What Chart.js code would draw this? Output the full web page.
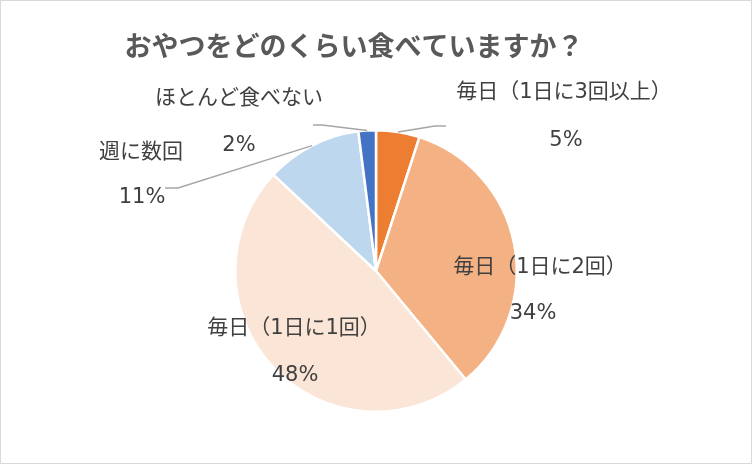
<!DOCTYPE html>
<html>
<head>
<meta charset="utf-8">
<script src="https://cdn.jsdelivr.net/npm/chart.js@4"></script>
<style>
  body { margin: 0; background: #fff; }
  .frame { width: 750px; height: 462px; border: 1px solid #D9D9D9; }
</style>
</head>
<body>
<div class="frame"><canvas id="snackChart"></canvas></div>
<script>
// Data
const chartTitle = 'おやつをどのくらい食べていますか？';
const categories = ['毎日（1日に3回以上）', '毎日（1日に2回）', '毎日（1日に1回）', '週に数回', 'ほとんど食べない'];
const shares = [5, 34, 48, 11, 2];
const sliceColors = ['#ED7D31', '#F4B183', '#FBE5D6', '#BDD7EE', '#4472C4'];

// label layout relative to pie centre: name, percent, optional leader elbow/end
const labelLayout = [
    { name: [188, -178], pct: [190, -130], elbow: [59, -145], end: [70, -145] },
    { name: [164, -3], pct: [157, 43] },
    { name: [-82, 58], pct: [-81, 105] },
    { name: [-235, -118], pct: [-234, -73], elbow: [-198, -83], end: [-211, -83] },
    { name: [-137, -172], pct: [-137, -125], elbow: [-54, -146], end: [-63, -146] }
];

const labelFont = "21px 'DejaVu Sans', 'Noto Sans CJK JP', sans-serif";

const labelPlugin = {
    id: 'sliceLabels',
    afterDatasetsDraw(chart) {
        const ctx = chart.ctx;
        const meta = chart.getDatasetMeta(0);
        ctx.save();
        // title
        ctx.fillStyle = '#595959';
        ctx.font = "bold 27px 'Noto Sans CJK JP', sans-serif";
        ctx.textAlign = 'center';
        ctx.textBaseline = 'middle';
        ctx.fillText(chartTitle, chart.width / 2 - 22, 45);

        meta.data.forEach((arc, i) => {
            const cx = arc.x, cy = arc.y;
            const lay = labelLayout[i];
            if (lay.elbow) {
                const mid = (arc.startAngle + arc.endAngle) / 2;
                const r = arc.outerRadius;
                ctx.beginPath();
                ctx.strokeStyle = '#A6A6A6';
                ctx.lineWidth = 1.5;
                ctx.moveTo(cx + Math.cos(mid) * r, cy + Math.sin(mid) * r);
                ctx.lineTo(cx + lay.elbow[0], cy + lay.elbow[1]);
                ctx.lineTo(cx + lay.end[0], cy + lay.end[1]);
                ctx.stroke();
            }
            ctx.fillStyle = '#404040';
            ctx.font = labelFont;
            ctx.fillText(categories[i], cx + lay.name[0], cy + lay.name[1]);
            ctx.fillText(shares[i] + '%', cx + lay.pct[0], cy + lay.pct[1]);
        });
        ctx.restore();
    }
};

new Chart(document.getElementById('snackChart'), {
    type: 'pie',
    data: {
        labels: categories,
        datasets: [{
            data: shares,
            backgroundColor: sliceColors,
            borderColor: '#FFFFFF',
            borderWidth: 2.5
        }]
    },
    options: {
        responsive: true,
        maintainAspectRatio: false,
        animation: false,
        layout: { padding: { top: 128, bottom: 50, left: 0, right: 0 } },
        plugins: {
            legend: { display: false },
            tooltip: { enabled: false },
            title: { display: false }
        }
    },
    plugins: [labelPlugin]
});
</script>
</body>
</html>
